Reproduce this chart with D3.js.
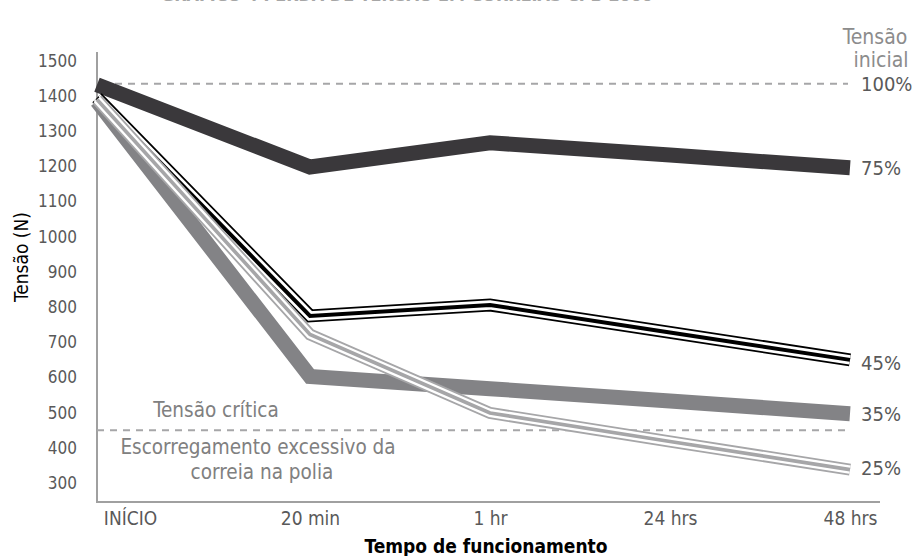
<!DOCTYPE html>
<html>
<head>
<meta charset="utf-8">
<script src="https://cdn.jsdelivr.net/npm/d3@7"></script>
<style>
  html, body { margin: 0; padding: 0; background: #fff; }
  svg { display: block; }
  text { font-family: "DejaVu Sans Condensed", "DejaVu Sans", sans-serif; font-stretch: condensed; }
</style>
</head>
<body>
<svg id="chart" width="920" height="556"></svg>
<script>
// Time points along the x axis
const categories = ["INÍCIO", "20 min", "1 hr", "24 hrs", "48 hrs"];

// Belt tension (N) for each retained-tension group
const tension75 = [1432, 1198, 1267, 1232, 1196];
const tension45 = [1395, 775, 806, 728, 650];
const tension35 = [1385, 603, 568, 533, 497];
const tension25 = [1390, 722, 499, 418, 338];

const yTicks = [300, 400, 500, 600, 700, 800, 900, 1000, 1100, 1200, 1300, 1400, 1500];
const initialTension = 1435;
const criticalTension = 450;

const svg = d3.select("#chart");
const plotLeft = 97, plotRight = 880, plotTop = 52, plotBottom = 502;

const x = d3.scalePoint().domain(categories).range([130, 850]);
const y = d3.scaleLinear().domain([246, 1525]).range([plotBottom, plotTop]);

// first point sits on the vertical axis
const px = (d, i) => (i === 0 ? plotLeft : x(categories[i]));

const fontStack = "\"DejaVu Sans Condensed\", \"DejaVu Sans\", sans-serif";

// Title (partially above the canvas)
svg.append("text")
  .attr("x", 407).attr("y", 1)
  .attr("text-anchor", "middle")
  .attr("font-size", 15).attr("font-weight", "bold")
  .attr("fill", "#a6a6a6")
  .attr("textLength", 492).attr("lengthAdjust", "spacingAndGlyphs")
  .text("GRÁFICO 4 PERDA DE TENSÃO EM CORREIAS CPB 2000");

// Y axis tick labels
const yAxis = d3.axisLeft(y).tickValues(yTicks).tickFormat(d3.format("d")).tickSize(0).tickPadding(0);
const gy = svg.append("g").attr("transform", `translate(${plotLeft - 20},0)`).call(yAxis);
gy.select(".domain").remove();
gy.selectAll("text").attr("font-size", 17).attr("fill", "#595959").style("font-family", fontStack);

// X axis tick labels
const xAxis = d3.axisBottom(x).tickSize(0).tickPadding(0);
const gx = svg.append("g").attr("transform", `translate(0,${plotBottom + 9})`).call(xAxis);
gx.select(".domain").remove();
gx.selectAll("text").attr("font-size", 19).attr("fill", "#595959").style("font-family", fontStack);

// Axis lines
svg.append("line").attr("x1", plotLeft).attr("x2", plotLeft).attr("y1", plotTop).attr("y2", plotBottom)
  .attr("stroke", "#a0a0a0").attr("stroke-width", 2);
svg.append("line").attr("x1", plotLeft - 1).attr("x2", plotRight).attr("y1", plotBottom).attr("y2", plotBottom)
  .attr("stroke", "#a0a0a0").attr("stroke-width", 2);

// Reference lines
svg.append("line").attr("x1", 115).attr("x2", 848)
  .attr("y1", y(initialTension)).attr("y2", y(initialTension))
  .attr("stroke", "#a6a6a8").attr("stroke-width", 2).attr("stroke-dasharray", "7,6");
svg.append("line").attr("x1", plotLeft).attr("x2", 848)
  .attr("y1", y(criticalTension)).attr("y2", y(criticalTension))
  .attr("stroke", "#a6a6a8").attr("stroke-width", 2).attr("stroke-dasharray", "7,6");

const line = d3.line().x(px).y(d => y(d));

function strokeLine(data, color, width) {
  svg.append("path").datum(data).attr("d", line)
    .attr("fill", "none").attr("stroke", color).attr("stroke-width", width)
    .attr("stroke-linejoin", "miter").attr("stroke-miterlimit", 4);
}

// 75%: heavy dark band
strokeLine(tension75, "#3a383b", 15);
// 35%: heavy grey band
strokeLine(tension35, "#838386", 15);
// 45%: black triple line
strokeLine(tension45, "#000", 13);
strokeLine(tension45, "#fff", 9.4);
strokeLine(tension45, "#000", 4);
// 25%: light grey triple line
strokeLine(tension25, "#a6a6a8", 12);
strokeLine(tension25, "#fff", 8.4);
strokeLine(tension25, "#a6a6a8", 3.6);

// End-of-line percentage labels
const endLabels = [
  { text: "100%", v: initialTension },
  { text: "75%", v: tension75[4] },
  { text: "45%", v: tension45[4] - 8 },
  { text: "35%", v: tension35[4] },
  { text: "25%", v: tension25[4] + 4 }
];
svg.selectAll("text.end").data(endLabels).enter().append("text")
  .attr("class", "end")
  .attr("x", 861).attr("y", d => y(d.v))
  .attr("dominant-baseline", "central")
  .attr("font-size", 20).attr("fill", "#595959")
  .style("font-family", fontStack)
  .text(d => d.text);

svg.append("text").attr("x", 875).attr("y", 37).attr("text-anchor", "middle")
  .attr("dominant-baseline", "central")
  .attr("font-size", 21).attr("fill", "#8c8c8c").text("Tensão");
svg.append("text").attr("x", 881).attr("y", 60).attr("text-anchor", "middle")
  .attr("dominant-baseline", "central")
  .attr("font-size", 21).attr("fill", "#8c8c8c").text("inicial");

// Critical tension annotations
const note = (text, cx, cy) => svg.append("text").attr("x", cx).attr("y", cy)
  .attr("text-anchor", "middle").attr("dominant-baseline", "central")
  .attr("font-size", 20.5).attr("fill", "#808080").text(text);
note("Tensão crítica", 216, y(criticalTension) - 20);
note("Escorregamento excessivo da", 258, y(criticalTension) + 17);
note("correia na polia", 262, y(criticalTension) + 42);

// Axis titles
svg.append("text").attr("transform", "translate(21,257) rotate(-90)").attr("text-anchor", "middle")
  .attr("dominant-baseline", "central")
  .attr("font-size", 19).attr("fill", "#000").text("Tensão (N)");
svg.append("text").attr("x", 486).attr("y", 546).attr("text-anchor", "middle")
  .attr("dominant-baseline", "central")
  .attr("font-size", 19).attr("font-weight", "bold").attr("fill", "#000").text("Tempo de funcionamento");
</script>
</body>
</html>
